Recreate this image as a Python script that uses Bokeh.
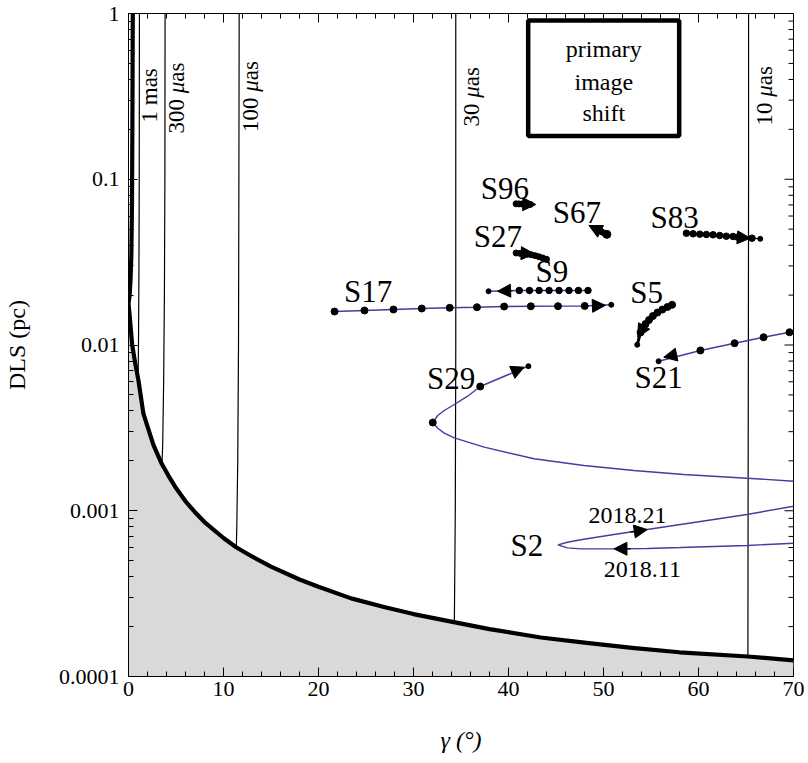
import math
from bokeh.plotting import figure
from bokeh.models import (FixedTicker, Label, BoxAnnotation, Arrow, NormalHead, Range1d)
from bokeh.embed import file_html
from bokeh.resources import INLINE

# ---------------- ticks ----------------
x_ticks = [0, 10, 20, 30, 40, 50, 60, 70]
x_minor = list(range(0, 71, 2))
y_ticks = [0.0001, 0.001, 0.01, 0.1, 1.0]
y_tick_labels = ["0.0001", "0.001", "0.01", "0.1", "1"]
y_minor = [m * 10.0 ** e for e in range(-4, 0) for m in range(2, 10)]
x_title = "\u03b3 (\u00b0)"
y_title = "DLS (pc)"

# ---------------- boundary (thick curve) ----------------
bnd_upper_gamma = [0.45, 0.42, 0.37, 0.30, 0.21, 0.12, 0.0]
bnd_upper_D = [1.0, 0.3, 0.074, 0.035, 0.0245, 0.020, 0.0178]
bnd_lower_gamma = [0.0, 0.10, 0.38, 0.70, 1.05, 1.57, 2.62, 3.5, 4.2, 5.0, 6.0, 7.0, 8.0,
                   10.0, 11.37, 13.0, 15.0, 18.0, 20.0, 23.44, 27.0, 30.0, 34.37, 38.0,
                   43.4, 48.0, 53.0, 58.0, 65.2, 70.0]
bnd_lower_D = [0.0178, 0.0155, 0.0101, 0.0078, 0.0061, 0.00385, 0.0025, 0.00192, 0.00163,
               0.00137, 0.00114, 0.00098, 0.000855, 0.000685, 0.00060, 0.00053, 0.00046,
               0.000385, 0.000348, 0.000296, 0.000262, 0.000238, 0.000212, 0.000193,
               0.000172, 0.000160, 0.000149, 0.000140, 0.000132, 0.000125]

# ---------------- image-shift contours ----------------
c1mas_gamma = [1.15, 1.13, 1.10, 1.06, 1.02]
c1mas_D = [1.0, 0.1, 0.03, 0.012, 0.0064]
c300_gamma = [3.85, 3.83, 3.78, 3.70, 3.60, 3.52]
c300_D = [1.0, 0.1, 0.02, 0.006, 0.0025, 0.0019]
c100_gamma = [11.65, 11.62, 11.58, 11.50, 11.40, 11.35]
c100_D = [1.0, 0.1, 0.01, 0.002, 0.0008, 0.0006]
c30_gamma = [34.45, 34.45, 34.45, 34.40, 34.30]
c30_D = [1.0, 0.1, 0.01, 0.001, 0.00021]
c10_gamma = [65.27, 65.27, 65.25, 65.22, 65.20]
c10_D = [1.0, 0.1, 0.01, 0.001, 0.000132]

# ---------------- stars ----------------
s17_gamma = [21.69, 24.84, 27.89, 30.87, 33.81, 36.68, 39.54, 42.35, 45.21, 48.02]
s17_D = [0.01592, 0.01615, 0.01637, 0.0166, 0.01677, 0.0169, 0.01707, 0.01712, 0.01716, 0.0172]
s17_end = (50.82, 0.01748)
s17_arrow = (49.0, 0.01725, 50.2, 0.01735)

s9_gamma = [48.37, 47.36, 46.37, 45.32, 44.27, 43.22, 42.21, 41.13]
s9_D = [0.02133, 0.02133, 0.02133, 0.02133, 0.02133, 0.02133, 0.02133, 0.02133]
s9_end = (37.9, 0.0211)
s9_arrow = (40.4, 0.02128, 38.85, 0.0211)

s21_gamma = [71.0, 69.58, 66.85, 63.80, 60.2]
s21_D = [0.0123, 0.01194, 0.01114, 0.01025, 0.00927]
s21_end = (55.8, 0.00798)
s21_arrow = (57.75, 0.00876, 56.35, 0.00844)

s29_gamma = [71.0, 70.0, 65.1, 58.44, 53.19, 47.94, 42.69, 37.44, 34.29, 33.24, 32.55,
             32.03, 32.55, 33.24, 34.29, 35.70, 37.02, 39.5, 42.1]
s29_D = [0.00149, 0.001508, 0.001572, 0.001655, 0.00175, 0.001875, 0.002058, 0.002418,
         0.002754, 0.002938, 0.003148, 0.003406, 0.003756, 0.004025, 0.004375, 0.004911,
         0.00562, 0.006457, 0.00745]
s29_dots_gamma = [32.03, 37.02]
s29_dots_D = [0.003406, 0.00562]
s29_end = (42.1, 0.00745)
s29_arrow = (40.42, 0.00685, 41.65, 0.00735)

s2_gamma = [71.0, 70.0, 65.1, 61.6, 58.1, 54.6, 51.1, 47.6, 46.2, 45.21, 46.2, 47.6, 51.1,
            54.6, 58.1, 61.6, 65.1, 70.0, 71.0]
s2_D = [0.00064, 0.000637, 0.000617, 0.000609, 0.0006, 0.000592, 0.000589, 0.000589,
        0.000597, 0.000623, 0.000646, 0.000668, 0.000719, 0.00077, 0.000826, 0.000886,
        0.00095, 0.001065, 0.00109]
s2_arrow_in = (52.85, 0.00059, 51.1, 0.000589)
s2_arrow_out = (52.85, 0.000744, 54.6, 0.00077)

s83_gamma = [58.73, 59.43, 60.13, 60.83, 61.53, 62.23, 62.93, 63.63, 64.11, 65.63]
s83_D = [0.04725, 0.04688, 0.04663, 0.04642, 0.04623, 0.04577, 0.04534, 0.04516, 0.04474, 0.0441]
s83_end = (66.5, 0.0437)
s83_arrow = (64.4, 0.0445, 65.45, 0.0441)

s5_gamma = [57.22, 56.73, 56.2, 55.68, 55.2, 54.79, 54.42, 54.1, 53.9]
s5_D = [0.01748, 0.01696, 0.01637, 0.0157, 0.01496, 0.01416, 0.01339, 0.01258, 0.0119]
s5_end = (53.55, 0.01003)
s5_arrow = (54.2, 0.0128, 53.6, 0.01114)

s96_gamma = [40.8, 41.1, 41.4, 41.7, 42.0, 42.3]
s96_D = [0.0711, 0.0710, 0.0709, 0.0708, 0.0706, 0.0705]
s96_arrow = (42.0, 0.0706, 42.87, 0.0704)

s27_gamma = [40.8, 41.2, 41.6, 42.0, 42.4, 42.8, 43.2, 43.6, 44.0]
s27_D = [0.0359, 0.0357, 0.0355, 0.0353, 0.0350, 0.0346, 0.0341, 0.0335, 0.0329]
s27_arrow = (41.3, 0.0358, 42.7, 0.0355)

s67_gamma = [49.2, 49.5, 49.8, 50.1, 50.35]
s67_D = [0.0502, 0.0492, 0.0482, 0.0472, 0.0465]
s67_arrow = (49.17, 0.0502, 48.47, 0.0526)

# ---------------- layout ----------------
CANVAS_W, CANVAS_H = 808, 763
FRAME_L, FRAME_R, FRAME_T, FRAME_B = 127, 793, 13, 676
X_START, X_END = 0, 70
Y_START, Y_END = 1e-4, 1.0
FONT = "Liberation Serif"
TRACK = "#3f3fa0"
MAJOR_LEN, MINOR_LEN = 9, 5


def gx(px):
    return X_START + (px - FRAME_L) * (X_END - X_START) / (FRAME_R - FRAME_L)


def gy(py):
    lo, hi = math.log10(Y_START), math.log10(Y_END)
    return 10 ** (hi - (py - FRAME_T) * (hi - lo) / (FRAME_B - FRAME_T))


p = figure(width=CANVAS_W, height=CANVAS_H, x_range=Range1d(X_START, X_END),
           y_range=Range1d(Y_START, Y_END), y_axis_type="log",
           output_backend="svg", toolbar_location=None,
           min_border_left=FRAME_L, min_border_right=CANVAS_W - FRAME_R,
           min_border_top=FRAME_T, min_border_bottom=CANVAS_H - FRAME_B)
p.xgrid.visible = False
p.ygrid.visible = False
p.outline_line_color = "black"
p.outline_line_width = 1
p.background_fill_color = "white"
p.border_fill_color = "white"


def style_axis(ax, standoff, title, title_standoff, title_style):
    ax.major_tick_in = MAJOR_LEN
    ax.major_tick_out = 0
    ax.minor_tick_in = MINOR_LEN
    ax.minor_tick_out = 0
    ax.axis_line_color = "black"
    ax.major_tick_line_color = "black"
    ax.minor_tick_line_color = "black"
    ax.major_label_text_font = FONT
    ax.major_label_text_color = "black"
    ax.major_label_text_font_size = "22px"
    ax.major_label_standoff = standoff
    ax.axis_label = title
    ax.axis_label_text_font = FONT
    ax.axis_label_text_font_size = "24px"
    ax.axis_label_text_font_style = title_style
    ax.axis_label_text_color = "black"
    ax.axis_label_standoff = title_standoff


xb = p.xaxis[0]
xb.ticker = FixedTicker(ticks=x_ticks, minor_ticks=x_minor)
style_axis(xb, 5, x_title, 28, "italic")
yl = p.yaxis[0]
yl.ticker = FixedTicker(ticks=y_ticks, minor_ticks=y_minor)
yl.major_label_overrides = {t: s for t, s in zip(y_ticks, y_tick_labels)}
style_axis(yl, 9, y_title, 26, "normal")

# mirrored ticks on the top and right frame edges (inward)
top_y_major = gy(FRAME_T + MAJOR_LEN)
top_y_minor = gy(FRAME_T + MINOR_LEN)
p.segment(x_ticks, [Y_END] * len(x_ticks), x_ticks, [top_y_major] * len(x_ticks),
          line_color="black", line_width=1)
p.segment(x_minor, [Y_END] * len(x_minor), x_minor, [top_y_minor] * len(x_minor),
          line_color="black", line_width=1)
right_x_major = gx(FRAME_R - MAJOR_LEN)
right_x_minor = gx(FRAME_R - MINOR_LEN)
p.segment([X_END] * len(y_ticks), y_ticks, [right_x_major] * len(y_ticks), y_ticks,
          line_color="black", line_width=1)
p.segment([X_END] * len(y_minor), y_minor, [right_x_minor] * len(y_minor), y_minor,
          line_color="black", line_width=1)

# shaded forbidden region
p.patch(bnd_lower_gamma + [X_END, X_START], bnd_lower_D + [Y_START, Y_START],
        fill_color="#d9d9d9", line_color=None)

# contours
for g, d in [(c1mas_gamma, c1mas_D), (c300_gamma, c300_D), (c100_gamma, c100_D),
             (c30_gamma, c30_D), (c10_gamma, c10_D)]:
    p.line(g, d, line_color="black", line_width=1.2)

# thick boundary
p.line(bnd_upper_gamma + bnd_lower_gamma[1:], bnd_upper_D + bnd_lower_D[1:],
       line_color="black", line_width=4.2, line_join="round")

# tracks
p.line(s17_gamma + [s17_end[0]], s17_D + [s17_end[1]], line_color=TRACK, line_width=1.4)
p.line(s9_gamma + [s9_end[0]], s9_D + [s9_end[1]], line_color=TRACK, line_width=1.4)
p.line(s21_gamma + [s21_end[0]], s21_D + [s21_end[1]], line_color=TRACK, line_width=1.4)
p.line(s29_gamma, s29_D, line_color=TRACK, line_width=1.4)
p.line(s2_gamma, s2_D, line_color=TRACK, line_width=1.4)
p.line(s83_gamma + [s83_end[0]], s83_D + [s83_end[1]], line_color="black", line_width=1.2)
p.line(s5_gamma + [s5_end[0]], s5_D + [s5_end[1]], line_color="black", line_width=3)
p.line(s96_gamma, s96_D, line_color="black", line_width=5)
p.line(s27_gamma, s27_D, line_color="black", line_width=5)
p.line(s67_gamma, s67_D, line_color="black", line_width=4)

# dots
p.scatter(s17_gamma, s17_D, size=7, color="black")
p.scatter(s9_gamma, s9_D, size=6.5, color="black")
p.scatter(s21_gamma[1:], s21_D[1:], size=7, color="black")
p.scatter(s29_dots_gamma, s29_dots_D, size=7, color="black")
p.scatter(s83_gamma, s83_D, size=6.5, color="black")
p.scatter(s5_gamma, s5_D, size=7, color="black")
p.scatter(s96_gamma, s96_D, size=6, color="black")
p.scatter(s27_gamma, s27_D, size=6, color="black")
p.scatter(s67_gamma, s67_D, size=6, color="black")
p.scatter([s67_gamma[-1]], [s67_D[-1]], size=8, color="black")
ends = [s17_end, s9_end, s21_end, s29_end, s83_end, s5_end]
p.scatter([e[0] for e in ends], [e[1] for e in ends], size=5, color="black")

# arrows
for a in [s17_arrow, s9_arrow, s21_arrow, s29_arrow, s2_arrow_in, s2_arrow_out,
          s83_arrow, s5_arrow, s96_arrow, s27_arrow, s67_arrow]:
    p.add_layout(Arrow(end=NormalHead(size=13, fill_color="black", line_color="black",
                                      line_width=1),
                       x_start=a[0], y_start=a[1], x_end=a[2], y_end=a[3],
                       line_color="black", line_width=1.5))

# box
p.add_layout(BoxAnnotation(left=gx(527.3), right=gx(678.5), top=gy(20), bottom=gy(135.5),
                           fill_color=None, fill_alpha=0, line_color="black",
                           line_width=4.5, line_alpha=1))


def label(px, py, text, size, align="center", baseline="middle", angle=0.0,
          style="normal"):
    p.add_layout(Label(x=gx(px), y=gy(py), text=text, text_font=FONT,
                       text_font_size=f"{size}px", text_font_style=style,
                       text_align=align, text_baseline=baseline, angle=angle,
                       text_color="black"))


for txt, cy in [("primary", 48.5), ("image", 81), ("shift", 112)]:
    label(603, cy, txt, 24)

# star names
for txt, cx, cy in [("S96", 504, 188), ("S67", 576, 212), ("S27", 497, 236),
                    ("S9", 551, 271), ("S17", 367, 291), ("S5", 646, 292),
                    ("S83", 674, 217), ("S21", 658, 377), ("S29", 450, 378),
                    ("S2", 526, 545)]:
    label(cx, cy, txt, 31)
label(626.7, 515.3, "2018.21", 24)
label(641.7, 568.7, "2018.11", 24)

# rotated contour labels (pieces: text, advance, style); x = rendered baseline position
FS = 23
rot = math.pi / 2
contour_labels = [
    (148.0, 122, [("1 mas", 0, "normal")]),
    (175.0, 133, [("300 ", 1.75 * FS, "normal"), ("\u03bc", 0.5 * FS, "italic"), ("as", 0, "normal")]),
    (249.5, 131.5, [("100 ", 1.75 * FS, "normal"), ("\u03bc", 0.5 * FS, "italic"), ("as", 0, "normal")]),
    (470.5, 126, [("30 ", 1.25 * FS, "normal"), ("\u03bc", 0.5 * FS, "italic"), ("as", 0, "normal")]),
    (764.0, 125, [("10 ", 1.25 * FS, "normal"), ("\u03bc", 0.5 * FS, "italic"), ("as", 0, "normal")]),
]
for bx, by, pieces in contour_labels:
    yy = by
    for txt, w, st in pieces:
        label(bx, yy, txt, FS, align="left", baseline="alphabetic", angle=rot, style=st)
        yy -= w

open("out.html", "w").write(file_html(p, INLINE))
